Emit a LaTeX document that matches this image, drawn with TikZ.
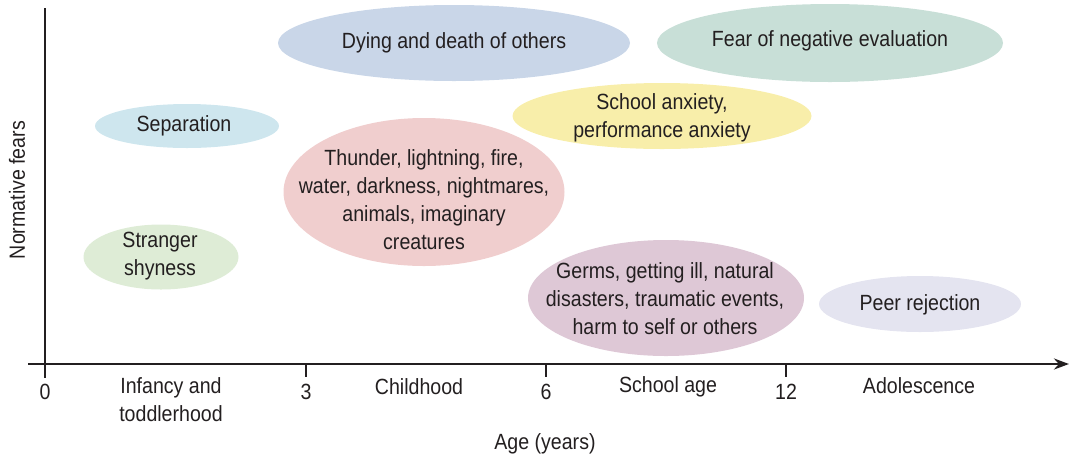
\documentclass[tikz,border=0pt]{standalone}
\usepackage{fontspec}
\setmainfont{Liberation Sans}[FakeStretch=0.89]
\usetikzlibrary{shapes.geometric,arrows.meta}
\definecolor{txt}{HTML}{231F20}
\definecolor{cdying}{HTML}{C9D6E8}
\definecolor{cfear}{HTML}{C8DFD7}
\definecolor{csep}{HTML}{CEE6EE}
\definecolor{cstr}{HTML}{DEECD6}
\definecolor{cschool}{HTML}{F8EEAA}
\definecolor{cthun}{HTML}{F0CECE}
\definecolor{cgerm}{HTML}{DEC8D6}
\definecolor{cpeer}{HTML}{E4E4F0}
\tikzset{
  blob/.style={ellipse, draw=none, inner sep=0pt},
  lbl/.style={text=txt, align=center, inner sep=0pt, font=\fontsize{22}{28}\selectfont},
  axis/.style={line width=2.6pt, draw=txt},
  tickmark/.style={line width=2pt, draw=txt}
}
\begin{document}
\begin{tikzpicture}[x=1pt,y=-1pt]
\useasboundingbox (0,0) rectangle (1075,456);
% ellipses
\node[blob, fill=cdying, minimum width=352pt, minimum height=76pt] (dying) at (454,43) {};
\node[blob, fill=cfear, minimum width=346pt, minimum height=78pt] (fear) at (830,43) {};
\node[blob, fill=csep, minimum width=184pt, minimum height=44pt] (sep) at (187,126) {};
\node[blob, fill=cstr, minimum width=155pt, minimum height=65pt] (str) at (161,257) {};
\node[blob, fill=cschool, minimum width=299pt, minimum height=66pt] (school) at (662,116) {};
\node[blob, fill=cthun, minimum width=281pt, minimum height=148pt] (thun) at (424,192) {};
\node[blob, fill=cgerm, minimum width=276pt, minimum height=116pt] (germ) at (666,298) {};
\node[blob, fill=cpeer, minimum width=202pt, minimum height=56pt] (peer) at (920,304) {};
% texts
\node[lbl] (tdying) at (454,43) {Dying and death of others};
\node[lbl] (tfear) at (830,41) {Fear of negative evaluation};
\node[lbl] (tsep) at (184,126) {Separation};
\node[lbl] (tstr) at (160,256) {Stranger\\shyness};
\node[lbl] (tschool) at (662,118) {School anxiety,\\performance anxiety};
\node[lbl] (tthun) at (424,200) {Thunder, lightning, fire,\\water, darkness, nightmares,\\animals, imaginary\\creatures};
\node[lbl] (tgerm) at (665,299) {Germs, getting ill, natural\\disasters, traumatic events,\\harm to self or others};
\node[lbl] (tpeer) at (920,305) {Peer rejection};
% axes
\coordinate (ytop) at (45,8);
\coordinate (ybot) at (45,378);
\coordinate (xl) at (28,364);
\coordinate (xr) at (1069,364);
\draw[axis] (ytop) -- (ybot);
\draw[axis, -{Stealth[length=15pt,width=11pt]}] (xl) -- (xr);
\coordinate (t3) at (306,364);
\coordinate (t6) at (546,364);
\coordinate (t12) at (786,364);
\draw[tickmark] (t3) -- ++(0,13);
\draw[tickmark] (t6) -- ++(0,13);
\draw[tickmark] (t12) -- ++(0,13);
% axis labels
\node[lbl] (n0) at (45,392) {0};
\node[lbl] (n3) at (306,392) {3};
\node[lbl] (n6) at (546,392) {6};
\node[lbl] (n12) at (786,392) {12};
\node[lbl] (linf) at (171,400) {Infancy and\\toddlerhood};
\node[lbl] (lchild) at (419,387) {Childhood};
\node[lbl] (lschool) at (668,387) {School age};
\node[lbl] (ladol) at (919,386) {Adolescence};
\node[lbl] (lage) at (545,444) {Age (years)};
\node[lbl, rotate=90] (lfear) at (17,190) {Normative fears};
\end{tikzpicture}
\end{document}
